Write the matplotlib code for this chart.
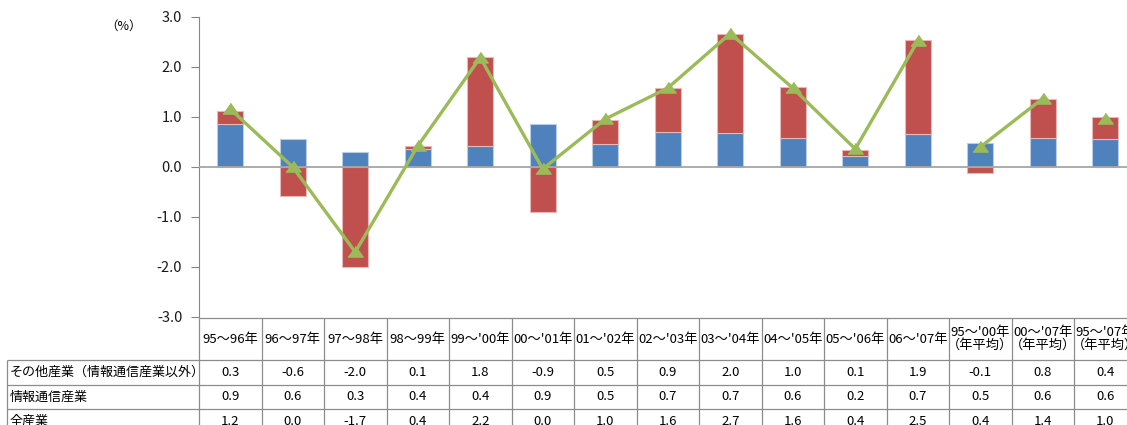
import matplotlib
matplotlib.use("Agg")
import matplotlib.pyplot as plt
import numpy as np

plt.rcParams['font.family'] = ['Noto Sans CJK JP', 'DejaVu Sans']

# data
periods = ["95〜96年", "96〜97年", "97〜98年", "98〜99年", "99〜'00年",
           "00〜'01年", "01〜'02年", "02〜'03年", "03〜'04年", "04〜'05年",
           "05〜'06年", "06〜'07年", "95〜'00年\n（年平均）",
           "00〜'07年\n（年平均）", "95〜'07年\n（年平均）"]
other = [0.27, -0.58, -2.00, 0.07, 1.77, -0.90, 0.48, 0.88, 1.98, 1.02,
         0.12, 1.89, -0.11, 0.78, 0.44]
ict = [0.86, 0.57, 0.30, 0.36, 0.43, 0.86, 0.47, 0.71, 0.69, 0.59,
       0.23, 0.66, 0.49, 0.59, 0.56]
total = [1.16, 0.00, -1.70, 0.42, 2.19, -0.04, 0.96, 1.58, 2.67, 1.58,
         0.36, 2.52, 0.40, 1.37, 0.97]
row_names = ["その他産業（情報通信産業以外）", "情報通信産業", "全産業"]
line_groups = [(0, 12), (12, 14), (14, 15)]

BLUE = "#4F81BD"
RED = "#C0504D"
GREEN = "#9BBB59"
GRID = "#8C8C8C"

W, H = 1127, 425
fig = plt.figure(figsize=(W / 100, H / 100), dpi=100)
col_w = 62.5
x0 = 199
n = len(periods)

# chart area
ax = fig.add_axes([x0 / W, (H - 317) / H, n * col_w / W, 300 / H])
x = np.arange(n)
other_a = np.array(other)
ict_a = np.array(ict)
ax.bar(x, ict_a, 0.42, color=BLUE, edgecolor="#B9CDE5", linewidth=0.8, zorder=2)
ax.bar(x, other_a, 0.42, bottom=np.where(other_a >= 0, ict_a, 0), color=RED,
       edgecolor="#E6B9B8", linewidth=0.8, zorder=2)
ax.axhline(0, color="#A6A6A6", lw=1.3, zorder=3)

tri = [(-1, -0.6), (1, -0.6), (0, 0.8)]
for s, e in line_groups:
    ax.plot(x[s:e], total[s:e], color=GREEN, lw=2.4, marker=tri, ms=11,
            zorder=4)

ax.set_xlim(-0.5, n - 0.5)
ax.set_ylim(-3, 3)
ax.set_yticks(np.arange(-3, 3.1, 1.0))
ax.yaxis.set_major_formatter(matplotlib.ticker.FormatStrFormatter("%.1f"))
ax.set_xticks([])
for sp in ["top", "right", "bottom"]:
    ax.spines[sp].set_visible(False)
ax.spines["left"].set_color("#868686")
ax.tick_params(axis="y", direction="out", length=6, color="#868686",
               labelsize=10.5, pad=6, labelcolor="#1a1a1a")
fig.text(124 / W, 1 - 26 / H, "（%）", fontsize=9, ha="center", va="center")

# data table
tax = fig.add_axes([0, 0, (x0 + n * col_w) / W, 1])
xl0 = -0.5 - x0 / col_w
tax.set_xlim(xl0, n - 0.5)
tax.set_ylim(H, 0)
tax.axis("off")

rows_y = [318, 360, 384.5, 409, 433.5]
label_left = xl0 + 7 / col_w
tax.hlines(rows_y[0], -0.5, n - 0.5, color=GRID, lw=0.9)
tax.hlines(rows_y[1:], label_left, n - 0.5, color=GRID, lw=0.9)
tax.vlines(np.arange(n + 1) - 0.5, rows_y[0], rows_y[-1], color=GRID, lw=0.9)
tax.vlines(label_left, rows_y[1], rows_y[-1], color=GRID, lw=0.9)

for i, p in enumerate(periods):
    tax.text(i, (rows_y[0] + rows_y[1]) / 2, p, ha="center", va="center",
             fontsize=9.5, linespacing=1.0)

for r, (name, vals) in enumerate(zip(row_names, [other, ict, total])):
    yc = (rows_y[r + 1] + rows_y[r + 2]) / 2
    tax.text(xl0 + 10 / col_w, yc, name, ha="left", va="center", fontsize=9.4)
    for i, v in enumerate(vals):
        tax.text(i, yc, f"{round(v, 1) + 0.0:.1f}", ha="center", va="center",
                 fontsize=9.5)

fig.savefig("out.png", dpi=100, facecolor="white")
